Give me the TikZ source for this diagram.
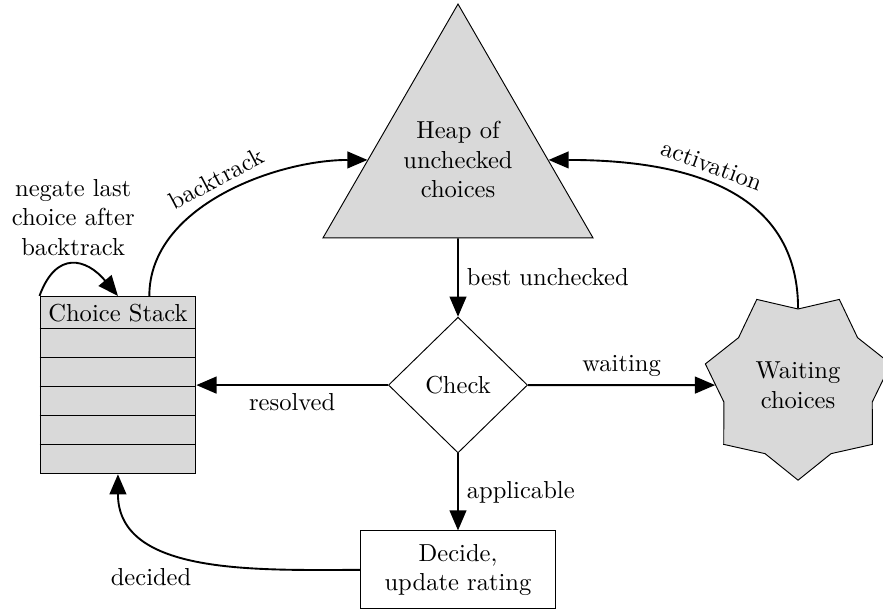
\documentclass[tikz,border=0pt]{standalone}
\usepackage{amssymb}
\usepackage{amsmath}
\usetikzlibrary{positioning,shapes.geometric,arrows.meta}

\begin{document}
\begin{tikzpicture}[node distance=2cm,
		>={Triangle[length=0.3cm,width=0.25cm]},
		every node/.style={font=\fontsize{10.4}{12.5}\selectfont},
		filled/.style={draw, fill=black!15}]
			\useasboundingbox (-6.815,-3.378) rectangle (6.324,5.73);

			\node[diamond, draw, inner sep=0pt, minimum width=2.07cm, minimum height=2.02cm] (check) {Check};
			\node[regular polygon, regular polygon sides=3, filled, inner sep=0pt, minimum size=4.64cm, align=center] (heap)[above of = check, node distance=3.35cm] {Heap of\\unchecked\\choices};
			\node[rectangle, draw, minimum width=2.9cm, minimum height=1.16cm, align=center] (decide)[below of = check, node distance=2.75cm] {Decide,\\update rating};
			\node[rectangle, filled, minimum width=2.32cm, minimum height=2.64cm] (stack)[left of = check, node distance=5.06cm] {};
			\node[star, star points=7, star point ratio=1.25, shape border rotate=180, filled, inner sep=0pt, minimum size=2.83cm, align=center] (waiting)[right of = check, node distance=5.06cm] {Waiting\\choices};

			% stack rows
			\node[anchor=north, minimum height=0.49cm, inner sep=0pt] (head) at (stack.north) {Choice Stack};
			\foreach \i in {0,...,4}
				\draw ([yshift=-0.49cm-\i*0.43cm]stack.north west) -- ([yshift=-0.49cm-\i*0.43cm]stack.north east);

			\path[->, thick]
				(heap) edge node[right] {best unchecked} (check)
				(check) edge node[right] {applicable} (decide)
				(check) edge node[below] {resolved} (stack)
				(check) edge node[above] {waiting} (waiting)

				(decide.west) edge[out=180, in=-90] node[pos=0.7, below=0.3cm] {decided} (stack.south)
				(waiting.north) edge[out=90, in=0, looseness=1.1] node[above, sloped, pos=0.55] {activation} (heap.east)
				([xshift=-0.7cm]stack.north east) edge[out=90, in=180, looseness=0.9] node[above, sloped, pos=0.5] {backtrack} (heap.west)
				(stack.north west) edge[out=70, in=130, looseness=1.6] node[above, align=center] {negate last\\choice after\\backtrack} (stack.north)
			;
		\end{tikzpicture}
\end{document}
